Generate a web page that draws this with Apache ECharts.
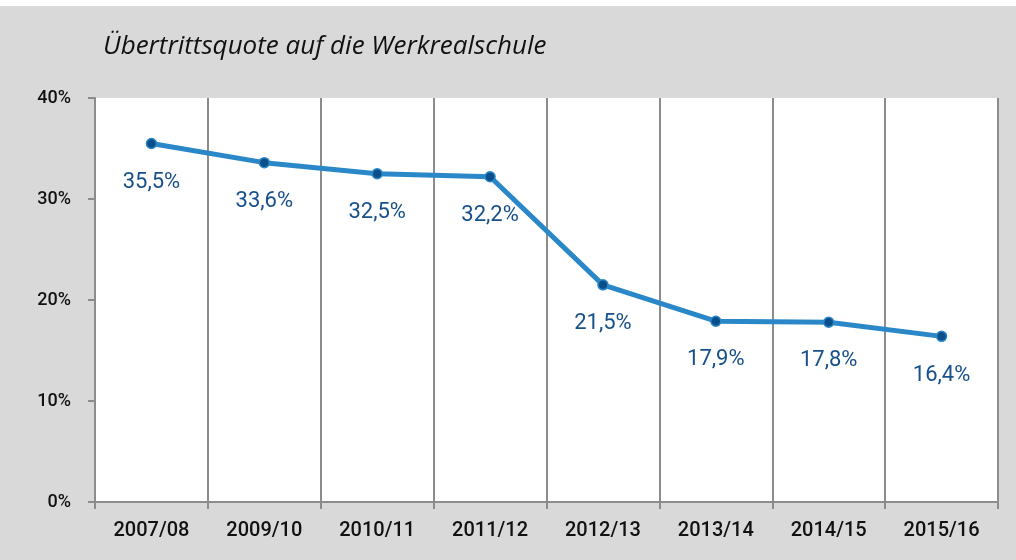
<!DOCTYPE html>
<html><head><meta charset="utf-8">
<script src="https://cdn.jsdelivr.net/npm/echarts@6/dist/echarts.min.js"></script>
<style>html,body{margin:0;padding:0;background:#fff}#c{width:1016px;height:560px}</style>
</head><body><div id="c"></div>
<script>
const categories = ['2007/08','2009/10','2010/11','2011/12','2012/13','2013/14','2014/15','2015/16'];
const quote = [35.5, 33.6, 32.5, 32.2, 21.5, 17.9, 17.8, 16.4];
const yTicks = [0, 10, 20, 30, 40];
const title = 'Übertrittsquote auf die Werkrealschule';

const chart = echarts.init(document.getElementById('c'), null, {renderer:'canvas'});
chart.setOption({
  backgroundColor: '#fff',
  graphic: [
    {type:'rect', left:0, top:6, shape:{width:1016, height:554}, style:{fill:'#d9d9d9'}, z:-10},
    {type:'rect', left:95, top:98, shape:{width:903, height:404}, style:{fill:'#ffffff'}, z:-9}
  ],
  title: {
    text: title, left: 98, top: 29,
    textStyle: {fontFamily:'Open Sans', fontStyle:'italic', fontWeight:'normal', fontSize:26, color:'#111'}
  },
  grid: {left:95, right:18, top:98, bottom:58, containLabel:false},
  xAxis: {
    type:'category', data: categories, boundaryGap:true,
    axisLine:{show:true, lineStyle:{color:'#8c8c8c', width:2}},
    axisTick:{show:true, length:7, lineStyle:{color:'#8c8c8c', width:2}},
    axisLabel:{color:'#111', fontFamily:'Roboto', fontWeight:500, fontSize:20, margin:19},
    splitLine:{show:true, lineStyle:{color:'#8c8c8c', width:2}}
  },
  yAxis: {
    type:'value', min:yTicks[0], max:yTicks[yTicks.length-1], interval:10,
    axisLine:{show:true, lineStyle:{color:'#8c8c8c', width:2}},
    axisTick:{show:true, length:7, lineStyle:{color:'#8c8c8c', width:2}},
    axisLabel:{color:'#111', fontFamily:'Roboto', fontWeight:500, fontSize:18, margin:24, formatter: v => v + '%'},
    splitLine:{show:false}
  },
  series: [{
    type:'line', data: quote,
    lineStyle:{color:'#2a88c8', width:5},
    symbol:'circle', symbolSize:10,
    itemStyle:{color:'#0b4f8a', borderColor:'#2a88c8', borderWidth:1.5},
    label:{show:true, position:'bottom', distance:22, color:'#17508a', fontFamily:'Roboto', fontSize:22,
      formatter: p => p.value.toFixed(1).replace('.', ',') + '%'},
    emphasis:{disabled:true},
    animation:false
  }],
  animation:false
});
</script></body></html>
